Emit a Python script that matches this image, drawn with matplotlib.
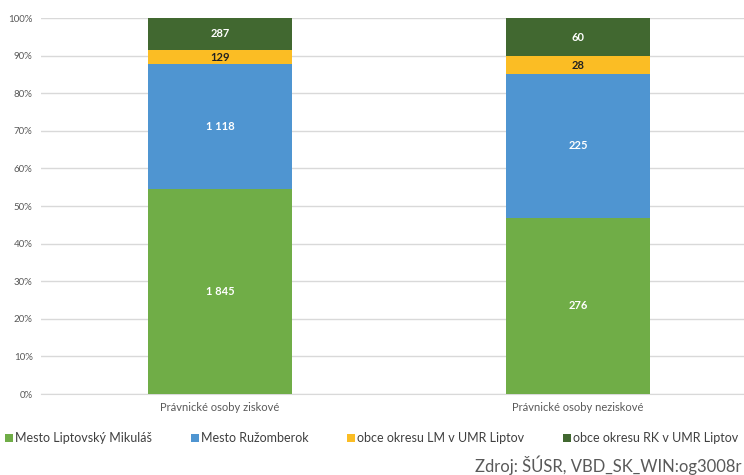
import matplotlib.pyplot as plt
import numpy as np

plt.rcParams['font.family'] = ['Lato', 'DejaVu Sans']

categories = ["Právnické osoby ziskové", "Právnické osoby neziskové"]
series_names = ["Mesto Liptovský Mikuláš", "Mesto Ružomberok",
                "obce okresu LM v UMR Liptov", "obce okresu RK v UMR Liptov"]
liptovsky_mikulas = [1845, 276]
ruzomberok = [1118, 225]
obce_lm = [129, 28]
obce_rk = [287, 60]
colors = ["#70AD47", "#4F95D1", "#FBBD24", "#416830"]
label_colors = ["white", "white", "#222222", "white"]

data = np.array([liptovsky_mikulas, ruzomberok, obce_lm, obce_rk], dtype=float)
totals = data.sum(axis=0)
shares = data / totals * 100

fig = plt.figure(figsize=(7.44, 4.75), dpi=100)
ax = fig.add_axes([41 / 744, 1 - 394 / 475, 716 / 744, 376 / 475])

x = np.arange(len(categories))
bottom = np.zeros(len(categories))
for i, name in enumerate(series_names):
    ax.bar(x, shares[i], 0.4, bottom=bottom, color=colors[i], label=name, zorder=3)
    for j in range(len(categories)):
        val = f"{int(data[i, j]):,}".replace(",", " ")
        ax.text(x[j], bottom[j] + shares[i, j] / 2, val, ha="center", va="center",
                fontsize=8, fontweight="bold", color=label_colors[i], zorder=4)
    bottom += shares[i]

ax.set_xlim(-0.5, 1.5)
ax.set_ylim(0, 100)
ax.set_yticks(np.arange(0, 101, 10))
ax.set_yticklabels([f"{v}%" for v in range(0, 101, 10)], fontsize=7, color="#595959")
ax.set_xticks(x)
ax.set_xticklabels(categories, fontsize=8, color="#595959")
ax.tick_params(length=0, pad=6)
ax.yaxis.grid(True, color="#D9D9D9", linewidth=1, zorder=0)
for s in ["top", "right", "left"]:
    ax.spines[s].set_visible(False)
ax.spines["bottom"].set_color("#D9D9D9")

fig.legend(loc="center", bbox_to_anchor=(0.5, 1 - 438 / 475), ncol=4, frameon=False,
           fontsize=9, handlelength=0.6, handleheight=0.6, handletextpad=0.2,
           columnspacing=3.1, labelcolor="#404040")
fig.text(0.997, 1 - 465 / 475, "Zdroj: ŠÚSR, VBD_SK_WIN:og3008r", ha="right", va="center",
         fontsize=12, color="#595959")

fig.savefig("out.png", dpi=100)
